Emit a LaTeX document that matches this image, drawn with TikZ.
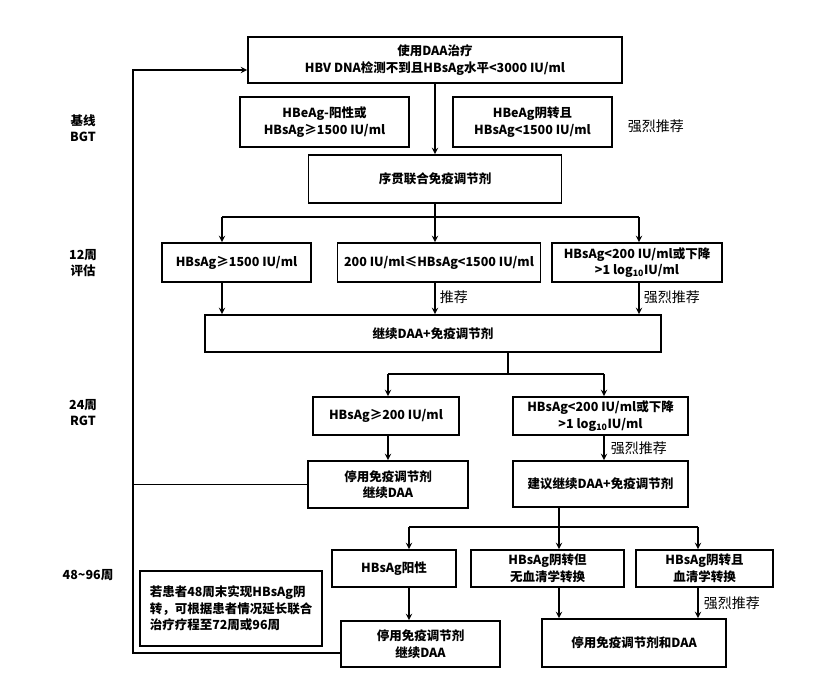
\documentclass[tikz,border=0pt]{standalone}
\usepackage{fontspec}
\setmainfont{Noto Sans CJK SC}
\begin{document}
\begin{tikzpicture}[x=1pt,y=-1pt,>=stealth,line width=1.8pt,
  box/.style={draw,align=center,inner sep=1pt,font=\bfseries\fontsize{12.5}{16.5}\selectfont},
  lab/.style={align=center,font=\bfseries\fontsize{12.5}{16}\selectfont},
  tag/.style={anchor=west,font=\fontsize{14}{16}\selectfont,inner sep=2pt}]
  \useasboundingbox (0,0) rectangle (813,679);
  % baseline
  \node[box,minimum width=374pt,minimum height=46pt] (start) at (435,60) {使用DAA治疗\\HBV DNA检测不到且HBsAg水平<3000 IU/ml};
  \node[box,minimum width=169pt,minimum height=50pt] (eplus) at (324.5,122) {HBeAg-阳性或\\HBsAg≥1500 IU/ml};
  \node[box,minimum width=159pt,minimum height=50pt] (eneg) at (532.5,122) {HBeAg阴转且\\HBsAg<1500 IU/ml};
  \node[tag] (t0) at (625,126) {强烈推荐};
  \node[lab] (bgt) at (83,128) {基线\\BGT};
  \node[box,minimum width=253pt,minimum height=48pt] (seq) at (435,179) {序贯联合免疫调节剂};
  \draw[->] (start) -- (seq);
  % 12 weeks
  \node[lab] (w12) at (83,263) {12周\\评估};
  \node[box,minimum width=149pt,minimum height=39pt] (a) at (236.5,262.5) {HBsAg≥1500 IU/ml};
  \node[box,minimum width=203pt,minimum height=39pt] (b) at (439,262.5) {200 IU/ml≤HBsAg<1500 IU/ml};
  \node[box,minimum width=170pt,minimum height=39pt] (c) at (637,262.5) {HBsAg<200 IU/ml或下降\\>1 log\textsubscript{10}IU/ml};
  \coordinate (s1) at (435,217);
  \coordinate (s1l) at (222,217);
  \coordinate (s1r) at (639,217);
  \draw (seq) -- (s1);
  \draw (s1l) -- (s1r);
  \draw[->] (s1l) -- (s1l |- a.north);
  \draw[->] (s1) -- (s1 |- b.north);
  \draw[->] (s1r) -- (s1r |- c.north);
  \node[box,minimum width=456pt,minimum height=37pt] (cont) at (433,333.5) {继续DAA+免疫调节剂};
  \draw[->] (s1l |- a.south) -- (s1l |- cont.north);
  \draw[->] (s1 |- b.south) -- (s1 |- cont.north);
  \draw[->] (s1r |- c.south) -- (s1r |- cont.north);
  \node[tag] (t1) at (437,297) {推荐};
  \node[tag] (t2) at (641,297) {强烈推荐};
  % 24 weeks
  \node[lab] (w24) at (83,413) {24周\\RGT};
  \node[box,minimum width=146pt,minimum height=38pt] (d) at (386,416) {HBsAg≥200 IU/ml};
  \node[box,minimum width=175pt,minimum height=38pt] (e) at (600.5,416) {HBsAg<200 IU/ml或下降\\>1 log\textsubscript{10}IU/ml};
  \coordinate (s2) at (508,374);
  \coordinate (s2l) at (388,374);
  \coordinate (s2r) at (604,374);
  \draw (s2 |- cont.south) -- (s2);
  \draw (s2l) -- (s2r);
  \draw[->] (s2l) -- (s2l |- d.north);
  \draw[->] (s2r) -- (s2r |- e.north);
  \node[box,minimum width=160pt,minimum height=47pt] (f) at (388,484.5) {停用免疫调节剂\\继续DAA};
  \node[box,minimum width=175pt,minimum height=46pt] (g) at (600.5,484) {建议继续DAA+免疫调节剂};
  \draw[->] (s2l |- d.south) -- (s2l |- f.north);
  \draw[->] (s2r |- e.south) -- (s2r |- g.north);
  \node[tag] (t3) at (608,448) {强烈推荐};
  % 48-96 weeks
  \node[lab] (w48) at (88,575) {48\textasciitilde96周};
  \node[box,minimum width=124pt,minimum height=37pt] (h) at (394,568.5) {HBsAg阳性};
  \node[box,minimum width=153pt,minimum height=37pt] (i) at (547.5,568.5) {HBsAg阴转但\\无血清学转换};
  \node[box,minimum width=137pt,minimum height=37pt] (j) at (704.5,568.5) {HBsAg阴转且\\血清学转换};
  \coordinate (s3) at (559,527);
  \coordinate (s3l) at (409,527);
  \coordinate (s3r) at (698,527);
  \draw (s3 |- g.south) -- (s3);
  \draw (s3l) -- (s3r);
  \draw[->] (s3l) -- (s3l |- h.north);
  \draw[->] (s3) -- (s3 |- i.north);
  \draw[->] (s3r) -- (s3r |- j.north);
  \node[box,align=left,minimum width=182pt,minimum height=75pt,inner sep=4pt] (note) at (231,608.5) {若患者48周末实现HBsAg阴\\转，可根据患者情况延长联合\\治疗疗程至72周或96周};
  \node[box,minimum width=159pt,minimum height=46pt] (k) at (420.5,644) {停用免疫调节剂\\继续DAA};
  \node[box,minimum width=184pt,minimum height=48pt] (l) at (634,643) {停用免疫调节剂和DAA};
  \draw[->] (s3l |- h.south) -- (s3l |- k.north);
  \draw[->] (s3 |- i.south) -- (s3 |- l.north);
  \draw[->] (s3r |- j.south) -- (s3r |- l.north);
  \node[tag] (t4) at (701,603) {强烈推荐};
  % back to start
  \coordinate (fbk) at (133,653);
  \coordinate (fbt) at (133,70);
  \draw[->] (k.west |- fbk) -- (fbk) -- (fbt) -- (start.west |- fbt);
  \draw (f.west) -- (f.west -| fbk);
\end{tikzpicture}
\end{document}
